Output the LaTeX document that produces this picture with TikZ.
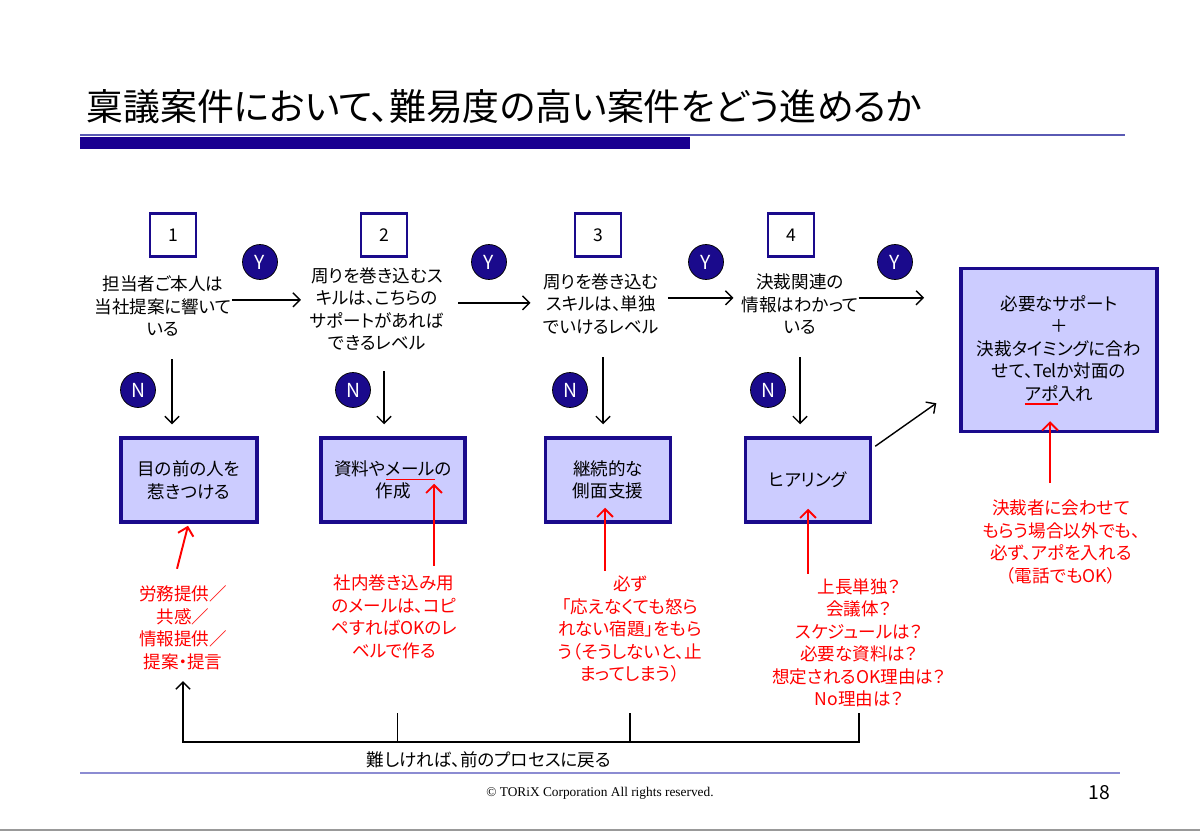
\documentclass[tikz,border=0pt]{standalone}
\usepackage{fontspec}
\setmainfont{Noto Sans CJK JP}[RawFeature={+palt}]
\newfontfamily\footfont{Liberation Serif}
\usetikzlibrary{arrows.meta,positioning,calc}
\definecolor{navy}{RGB}{26,10,140}
\definecolor{barblue}{RGB}{26,0,144}
\definecolor{lav}{RGB}{204,204,255}
\definecolor{ruleblue}{RGB}{90,90,180}
\definecolor{footblue}{RGB}{140,140,210}
\newsavebox{\ulbox}
\newcommand{\redul}[1]{\sbox{\ulbox}{#1}\rlap{\color{red}\rule[-2.6pt]{\wd\ulbox}{0.7pt}}\usebox{\ulbox}}

\begin{document}
\begin{tikzpicture}
[x=0.02cm,y=-0.02cm,
txt/.style={align=center,inner sep=0pt,font=\fontsize{10}{12.8}\selectfont},
note/.style={txt,text=red},
edge/.style={black,>={Straight Barb[length=4pt,width=8pt]},line width=.8pt},
redge/.style={red,>={Straight Barb[length=4.5pt,width=9pt]},line width=1.1pt},
block/.style={txt,draw=navy,line width=2pt,fill=lav,minimum height=1.68cm},
numbox/.style={draw=navy,line width=1.4pt,fill=white,minimum width=.92cm,minimum height=.86cm,font=\fontsize{10}{10}\selectfont},
badge/.style={circle,draw=black,line width=.4pt,fill=navy,text=white,minimum size=.7cm,inner sep=0pt,font=\fontsize{11}{11}\selectfont}]
\useasboundingbox[fill=white] (0,0) rectangle (1200,831);
%%
\node[anchor=west,inner sep=0pt,font=\fontsize{21}{22}\selectfont] (title) at (86,107) {稟議案件において、難易度の高い案件をどう進めるか};
\draw[ruleblue,line width=1.2pt] (80,135) -- (1125,135);
\fill[barblue] (80,137) rectangle (690,149);
%%
\node[numbox] (num1) at (173,235) {1};
\node[numbox] (num2) at (384,235) {2};
\node[numbox] (num3) at (598,235) {3};
\node[numbox] (num4) at (791,235) {4};
%%
\node[txt] (q1) at (163,306) {担当者ご本人は\\当社提案に響いて\\いる};
\node[txt] (q2) at (377,309) {周りを巻き込むス\\キルは、こちらの\\サポートがあれば\\できるレベル};
\node[txt] (q3) at (601,304) {周りを巻き込む\\スキルは、単独\\でいけるレベル};
\node[txt] (q4) at (800,304) {決裁関連の\\情報はわかって\\いる};
%%
\node[badge] (y1) at (260,262) {Y};
\node[badge] (y2) at (489,262) {Y};
\node[badge] (y3) at (706,262) {Y};
\node[badge] (y4) at (895,262) {Y};
\node[badge] (n1) at (138,390) {N};
\node[badge] (n2) at (353,390) {N};
\node[badge] (n3) at (570,390) {N};
\node[badge] (n4) at (768,390) {N};
%%
\node[block,minimum width=2.72cm] (a1) at (189,480) {目の前の人を\\惹きつける};
\node[block,minimum width=2.88cm] (a2) at (393,480) {資料や\redul{メール}の\\作成};
\node[block,minimum width=2.5cm] (a3) at (608,480) {継続的な\\側面支援};
\node[block,minimum width=2.5cm] (a4) at (808,480) {ヒアリング};
\node[block,minimum width=3.92cm,minimum height=3.26cm] (fin) at (1059,350) {必要なサポート\\＋\\決裁タイミングに合わ\\せて、Telか対面の\\\redul{アポ}入れ};
%%
\node[note] (r1) at (183,628) {労務提供／\\共感／\\情報提供／\\提案・提言};
\node[note] (r2) at (394,617) {社内巻き込み用\\のメールは、コピ\\ペすればOKのレ\\ベルで作る};
\node[note] (r3) at (630,629) {必ず\\「応えなくても怒ら\\れない宿題」をもら\\う（そうしないと、止\\まってしまう）};
\node[note] (r4) at (859,643) {上長単独？\\会議体？\\スケジュールは？\\必要な資料は？\\想定されるOK理由は？\\No理由は？};
\node[note] (r5) at (1061,542) {決裁者に会わせて\\もらう場合以外でも、\\必ず、アポを入れる\\（電話でもOK）};
%%
\draw[edge,->,shorten >=5pt] ([yshift=3.5pt]q1.east) -- ([yshift=3.5pt]q1.east -| q2.west);
\draw[edge,->,shorten <=8pt,shorten >=7pt] ([yshift=3.5pt]q2.east) -- ([yshift=3.5pt]q2.east -| q3.west);
\draw[edge,->,shorten <=5pt,shorten >=4.5pt] ([yshift=3.5pt]q3.east) -- ([yshift=3.5pt]q3.east -| q4.west);
\draw[edge,->,shorten >=20pt] ([yshift=3.5pt]q4.east) -- ([yshift=3.5pt]q4.east -| fin.west);
%%
\draw[edge,->] ($(a1.north)+(-17,-77)$) -- ($(a1.north)+(-17,-12)$);
\draw[edge,->] ($(a2.north)+(-9,-65)$) -- ($(a2.north)+(-9,-12)$);
\draw[edge,->] ($(a3.north)+(-5,-79)$) -- ($(a3.north)+(-5,-12)$);
\draw[edge,->] ($(a4.north)+(-8,-79)$) -- ($(a4.north)+(-8,-12)$);
\draw[edge,->] ($(a4.north east)+(3,10)$) -- ($(fin.south west)+(-23,-30)$);
%%
\draw[redge,->] ($(a1.south)+(-12,45)$) -- ($(a1.south)+(-1,2)$);
\draw[redge,->] ($(a2.south)+(41,42)$) -- ($(a2.south)+(41,-40)$);
\draw[redge,->] ($(a3.south)+(-3,47)$) -- ($(a3.south)+(-3,-16)$);
\draw[redge,->] ($(a4.south)+(0,50)$) -- ($(a4.south)+(0,-15)$);
\draw[redge,->] ($(fin.south)+(-9,50)$) -- ($(fin.south)+(-9,-12)$);
%%
\coordinate (tick) at (0,713);
\coordinate (base) at (0,742);
\node[txt] (back) at (489,760) {難しければ、前のプロセスに戻る};
\draw[edge] ([xshift=2pt]r2.south |- tick) -- ([xshift=2pt]r2.south |- base);
\draw[edge] (r3.south |- tick) -- (r3.south |- base);
\draw[edge,->] (r4.south |- tick) -- (r4.south |- base) -| ($(r1.south)+(0,11)$);
%%
\draw[footblue,line width=1pt] (80,773) -- (1120,773);
\node[font=\footfont\fontsize{7.6}{7.6}\selectfont] (copy) at (600,793) {© TORiX Corporation All rights reserved.};
\node[font=\fontsize{11}{11}\selectfont] (page) at (1099,793) {18};
\draw[black!40,line width=1.5pt] (0,830) -- (1200,830);
\end{tikzpicture}
\end{document}
